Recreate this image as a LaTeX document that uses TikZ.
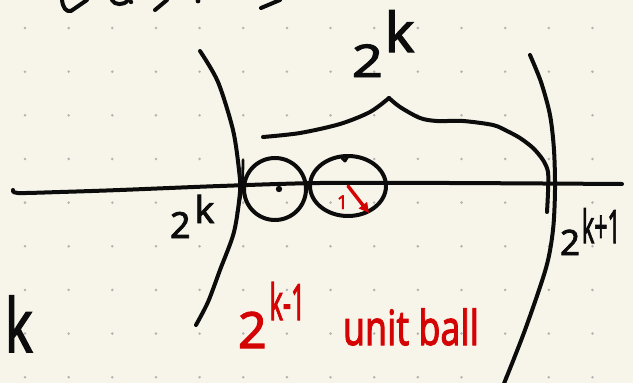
\documentclass[tikz,border=0pt]{standalone}
\usepackage{fontspec}
\setmainfont{Noto Sans}
\newfontfamily\hwfont{Noto Sans}[FakeBold=2.2]
\usepackage{graphicx}
\usetikzlibrary{arrows.meta,shapes.geometric}
\definecolor{paper}{RGB}{247,245,234}
\definecolor{dotc}{RGB}{178,178,178}
\definecolor{ink}{RGB}{12,12,12}
\definecolor{redink}{RGB}{212,4,4}
\newcommand\hsz[2]{{\hwfont\fontsize{#1}{#1}\selectfont #2}}
\begin{document}
\begin{tikzpicture}[x=1pt,y=-1pt,
  pen/.style={draw=ink,line width=4pt,line cap=round,line join=round},
  redpen/.style={draw=redink,line width=3.4pt,line cap=round,line join=round},
  lbl/.style={inner sep=0pt,outer sep=0pt,text=ink},
  rlbl/.style={inner sep=0pt,outer sep=0pt,text=redink}]
\fill[paper] (0,0) rectangle (633,383);
\useasboundingbox (0,0) rectangle (633,383);
\foreach \i in {0,...,13} \foreach \j in {0,...,8} \fill[dotc] (25+43.65*\i, 28+43.65*\j) circle (1.4);

% cut-off handwriting at the top edge
\draw[pen] (62,0) .. controls (63,8) and (66,12) .. (71,11) -- (87,0);
\draw[pen] (112,0) .. controls (114,5) and (124,6) .. (128,0);
\fill[ink] (131,2) circle (2.2);
\draw[pen] (167,0) -- (155,10);
\fill[ink] (198,1) circle (2.4);
\draw[pen] (280,0) -- (261,8);

% axis
\draw[pen] plot[smooth] coordinates {(13,190) (18,193) (60,192) (120,190) (220,186) (320,183) (450,183) (622,184)};

% left arc
\draw[pen] plot[smooth] coordinates {(200,51) (218,82) (233,130) (239,170) (240,192) (234,232) (220,270) (208,302) (196,325)};
\draw[pen,line width=2.8pt] plot[smooth] coordinates {(243,160) (242,188) (237,213)};

% right arc
\draw[pen] plot[smooth] coordinates {(530,55) (541,82) (550,115) (554,150) (555,190) (553,230) (546,268) (525,330) (503,386)};

% brace
\draw[pen] plot[smooth] coordinates {(263,137) (300,133) (340,124) (370,112) (389,98)};
\draw[pen] plot[smooth] coordinates {(389,98) (400,107) (420,118) (437,121) (463,121) (493,125) (507,131) (520,138) (533,148) (543,160) (548,172) (548,192) (547,212)};

% balls
\node[pen,circle,minimum size=62pt,inner sep=0pt] (ballA) at (275,189) {};
\fill[ink] (279,189) circle (3.2);
\node[pen,ellipse,minimum width=76pt,minimum height=60pt,inner sep=0pt] (ballB) at (348,186) {};
\draw[pen,line width=3pt] (342,158) -- (345,161) -- (348,156);

% radius arrow
\coordinate (arrE) at (369,213);
\draw[redpen,-{Triangle[length=10pt,width=10pt]}] (ballB.center) -- (arrE);
\node[rlbl,anchor=base west] (one) at (337,209) {\hsz{19}{1}};

% labels
\node[lbl,anchor=base west] (topk) at (352,77) {\scalebox{1.2}[1]{\hsz{45}{2}}\kern2pt\raisebox{25pt}{\hsz{55}{k}}};
\node[lbl,anchor=base west] (leftk) at (170,238) {\hsz{36}{2}\kern4pt\raisebox{15pt}{\hsz{37}{k}}};
\node[lbl,anchor=base west] (rightk) at (560,255) {\hsz{35}{2}\kern2pt\raisebox{12pt}{\scalebox{0.5}[1]{\hsz{46}{k+1}}}};
\node[lbl,anchor=base west] (kk) at (5,352) {\scalebox{0.7}[1]{\hsz{74}{k}}};
\node[rlbl,anchor=base west] (redexp) at (238,348) {\hsz{50}{2}\kern3pt\raisebox{28pt}{\scalebox{0.5}[1]{\hsz{50}{k-1}}}};
\node[rlbl,anchor=base west] (unitball) at (343,345) {\scalebox{0.85}[1.15]{\hsz{42}{unit ball}}};
\end{tikzpicture}
\end{document}
